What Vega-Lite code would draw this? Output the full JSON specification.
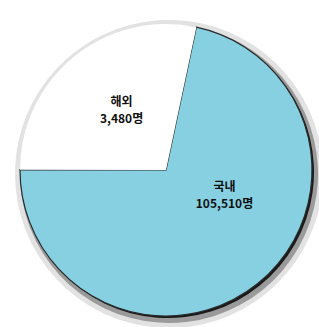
{
  "$schema": "https://vega.github.io/schema/vega-lite/v6.json",
  "width": 319,
  "height": 327,
  "autosize": {"type": "fit", "contains": "padding"},
  "padding": {"left": 13, "top": 13, "right": 0, "bottom": 0},
  "background": "white",
  "view": {"stroke": null},
  "data": {
    "values": [
      {"category": "국내", "people": 105510, "share": 71.7, "label": "국내\n105,510명"},
      {"category": "해외", "people": 3480, "share": 28.3, "label": "해외\n3,480명"}
    ]
  },
  "encoding": {
    "theta": {"field": "share", "type": "quantitative", "stack": true,
      "scale": {"domain": [0, 100], "range": [0.2094, 6.4926]}},
    "order": {"field": "category", "type": "nominal"}
  },
  "layer": [
    {
      "mark": {"type": "arc", "radius": 154, "fill": "#e2e2e2", "xOffset": 3, "yOffset": 4}
    },
    {
      "mark": {"type": "arc", "radius": 149, "fill": "#9a9a9a", "xOffset": 3, "yOffset": 4}
    },
    {
      "mark": {"type": "arc", "radius": 146, "xOffset": 2, "yOffset": 2},
      "encoding": {
        "fill": {"condition": {"test": "datum.category === '국내'", "value": "#1a1a1a"}, "value": "#9a9a9a"}
      }
    },
    {
      "mark": {"type": "arc", "radius": 146},
      "encoding": {
        "color": {"field": "category", "type": "nominal",
          "scale": {"domain": ["국내", "해외"], "range": ["#86d0e2", "#ffffff"]},
          "legend": null},
        "stroke": {"condition": {"test": "datum.category === '국내'", "value": "#2a2a2a"}, "value": null},
        "strokeWidth": {"value": 1.2}
      }
    },
    {
      "transform": [
        {"stack": "share", "groupby": [], "sort": [{"field": "category"}], "as": ["s0", "s1"]},
        {"calculate": "(datum.s0 + datum.s1) / 2", "as": "mid"},
        {"filter": "datum.category === '해외'"}
      ],
      "mark": {"type": "text", "radius": 77, "lineBreak": "\n", "lineHeight": 17, "font": "Noto Sans CJK KR",
        "fontWeight": "bold", "fontSize": 12, "color": "#111", "baseline": "middle", "dx": 4, "dy": -8},
      "encoding": {
        "theta": {"field": "mid", "type": "quantitative", "stack": null},
        "text": {"field": "label"}
      }
    },
    {
      "transform": [
        {"stack": "share", "groupby": [], "sort": [{"field": "category"}], "as": ["s0", "s1"]},
        {"calculate": "(datum.s0 + datum.s1) / 2", "as": "mid"},
        {"filter": "datum.category === '국내'"}
      ],
      "mark": {"type": "text", "radius": 66, "lineBreak": "\n", "lineHeight": 17, "font": "Noto Sans CJK KR",
        "fontWeight": "bold", "fontSize": 12, "color": "#111", "baseline": "middle", "dx": 17, "dy": -34},
      "encoding": {
        "theta": {"field": "mid", "type": "quantitative", "stack": null},
        "text": {"field": "label"}
      }
    }
  ]
}
